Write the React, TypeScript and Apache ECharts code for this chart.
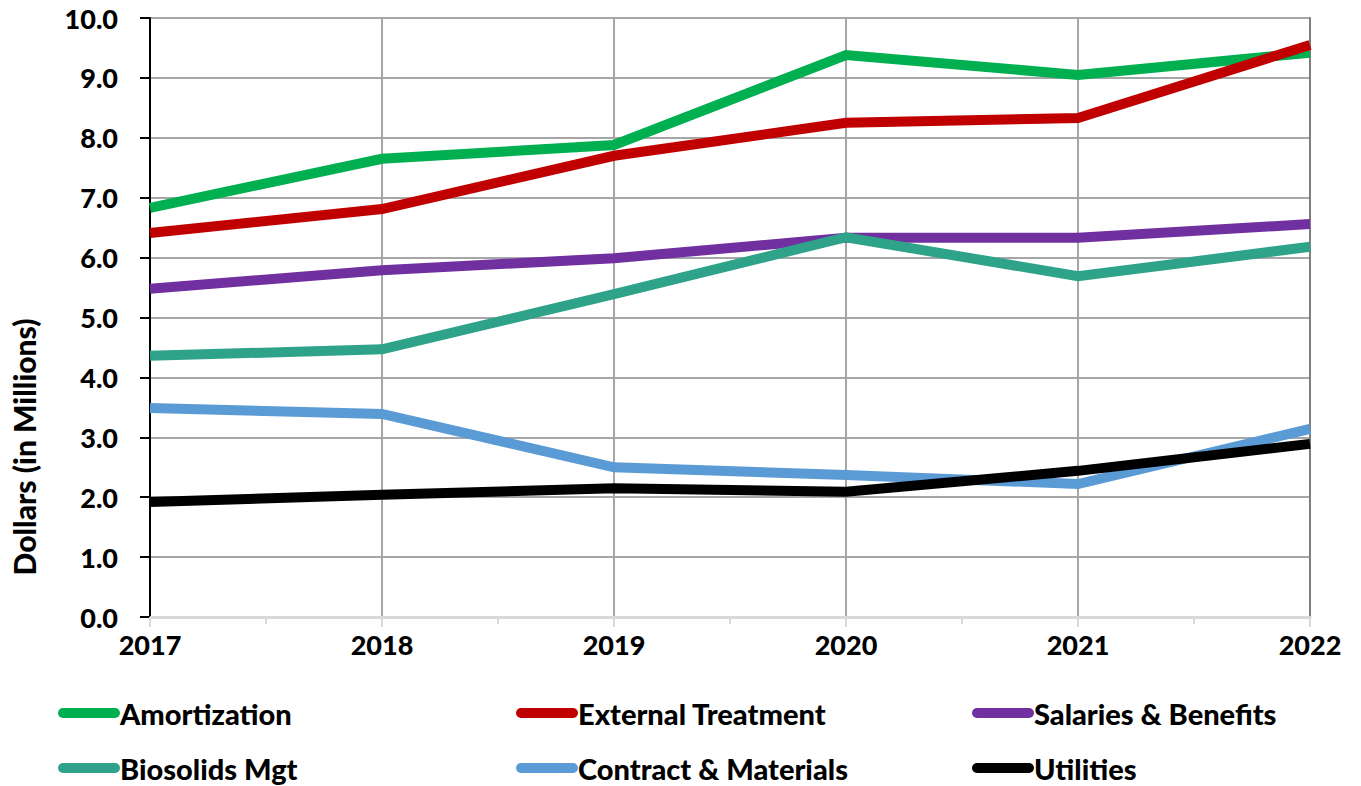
import React, { useEffect, useRef } from "react";
import * as echarts from "echarts";

const years = [2017, 2018, 2019, 2020, 2021, 2022];
const amortization = [6.83, 7.65, 7.88, 9.38, 9.05, 9.42];
const externalTreatment = [6.41, 6.81, 7.7, 8.25, 8.33, 9.55];
const salariesBenefits = [5.48, 5.79, 5.99, 6.33, 6.33, 6.56];
const biosolidsMgt = [4.36, 4.47, 5.39, 6.34, 5.69, 6.18];
const contractMaterials = [3.49, 3.39, 2.5, 2.37, 2.22, 3.14];
const utilities = [1.92, 2.04, 2.15, 2.09, 2.44, 2.89];

const seriesDefs = [
  { name: "Amortization", data: amortization, color: "#00B050" },
  { name: "External Treatment", data: externalTreatment, color: "#C00000" },
  { name: "Salaries & Benefits", data: salariesBenefits, color: "#7030A0" },
  { name: "Biosolids Mgt", data: biosolidsMgt, color: "#2FA38A" },
  { name: "Contract & Materials", data: contractMaterials, color: "#5B9BD5" },
  { name: "Utilities", data: utilities, color: "#000000" },
];

const FONT = "Lato";
const WEIGHT = 900;
const legendPos = [
  [58, 713],
  [516, 713],
  [972, 713],
  [58, 768],
  [516, 768],
  [972, 768],
];

export default function App() {
  const ref = useRef<HTMLDivElement>(null);
  useEffect(() => {
    if (!ref.current) return;
    const chart = echarts.init(ref.current, null, { renderer: "svg" });
    const pill = "path://M5,0 L57,0 A5,5 0 0 1 57,10 L5,10 A5,5 0 0 1 5,0 Z";
    chart.setOption({
      animation: false,
      backgroundColor: "#ffffff",
      textStyle: { fontFamily: FONT },
      grid: { left: 150, top: 18, right: 51, bottom: 169, containLabel: false },
      legend: seriesDefs.map((s, i) => ({
        data: [s.name],
        left: legendPos[i][0],
        top: legendPos[i][1] - 16,
        icon: pill,
        itemWidth: 62,
        itemHeight: 10,
        padding: 0,
        selectedMode: false,
        textStyle: {
          fontFamily: FONT,
          fontWeight: WEIGHT,
          fontSize: 29,
          color: "#000",
          lineHeight: 24,
          padding: [0, 0, 8, -5],
        },
      })),
      xAxis: {
        type: "value",
        min: 2017,
        max: 2022,
        interval: 1,
        axisLine: { show: true, lineStyle: { color: "#D9D9D9", width: 3 } },
        axisTick: { show: true, length: 10, lineStyle: { color: "#D9D9D9", width: 2 } },
        minorTick: { show: true, splitNumber: 2, length: 7, lineStyle: { color: "#D9D9D9", width: 2 } },
        splitLine: { show: true, lineStyle: { color: "#A6A6A6", width: 2 } },
        axisLabel: {
          color: "#000",
          fontFamily: FONT,
          fontWeight: WEIGHT,
          fontSize: 27,
          margin: 14,
          formatter: (v: number) => String(v),
        },
      },
      yAxis: [
        {
          type: "value",
          min: 0,
          max: 10,
          interval: 1,
          axisLine: { show: true, lineStyle: { color: "#000", width: 2 } },
          axisTick: { show: true, length: 10, lineStyle: { color: "#000", width: 2 } },
          splitLine: { show: true, lineStyle: { color: "#A6A6A6", width: 2 } },
          axisLabel: {
            color: "#000",
            fontFamily: FONT,
            fontWeight: WEIGHT,
            fontSize: 27,
            margin: 32,
            formatter: (v: number) => v.toFixed(1),
          },
        },
        {
          type: "value",
          position: "right",
          min: 0,
          max: 10,
          interval: 1,
          axisLine: { show: true, lineStyle: { color: "#7F7F7F", width: 2 } },
          axisTick: { show: false },
          axisLabel: { show: false },
          splitLine: { show: false },
        },
      ],
      graphic: [
        {
          type: "text",
          x: 24,
          y: 447,
          rotation: Math.PI / 2,
          style: {
            text: "Dollars (in Millions)",
            fontFamily: FONT,
            fontWeight: WEIGHT,
            fontSize: 30,
            fill: "#000",
            align: "center",
            verticalAlign: "middle",
          },
        },
      ],
      series: seriesDefs.map((s) => ({
        name: s.name,
        type: "line",
        data: s.data.map((v, i) => [years[i], v]),
        showSymbol: false,
        symbol: "none",
        color: s.color,
        lineStyle: { color: s.color, width: 10, cap: "butt", join: "miter" },
        itemStyle: { color: s.color },
      })),
    });
    return () => chart.dispose();
  }, []);
  return <div ref={ref} style={{ width: 1361, height: 786, position: "absolute", left: 0, top: 0 }} />;
}
